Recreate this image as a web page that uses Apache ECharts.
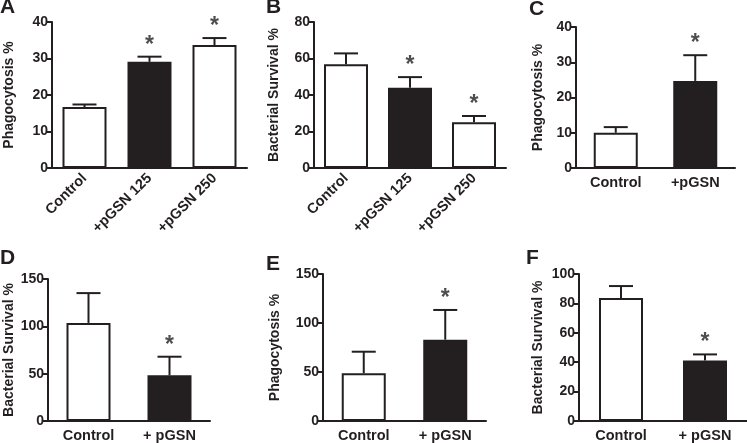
<!DOCTYPE html>
<html>
<head>
<meta charset="utf-8">
<script src="https://cdn.jsdelivr.net/npm/echarts@6/dist/echarts.min.js"></script>
<style>
html,body{margin:0;padding:0;background:#fff;}
#c{width:747px;height:443px;}
</style>
</head>
<body>
<div id="c"></div>
<script>
// ---- data ----
const catsAB = ['Control', '+pGSN 125', '+pGSN 250'];
const catsC = ['Control', '+pGSN'];
const catsDEF = ['Control', '+ pGSN'];

const meanA = [16.7, 29.1, 33.7];
const semA = [0.7, 1.4, 1.9];
const meanB = [56.9, 44.0, 25.1];
const semB = [5.9, 5.8, 3.4];
const meanC = [10.0, 24.7];
const semC = [1.6, 7.3];
const meanD = [103.6, 48.2];
const semD = [31.5, 19.7];
const meanE = [48.7, 83.0];
const semE = [22.0, 30.3];
const meanF = [83.6, 41.2];
const semF = [8.2, 4.1];

const fill3 = ['white', 'black', 'white'];
const fill2 = ['white', 'black'];
const sig3 = [false, true, true];
const sig2 = [false, true];

const yTicksA = [0, 10, 20, 30, 40];
const yTicksB = [0, 20, 40, 60, 80];
const yTicksC = [0, 10, 20, 30, 40];
const yTicksD = [0, 50, 100, 150];
const yTicksE = [0, 50, 100, 150];
const yTicksF = [0, 20, 40, 60, 80, 100];

const nameA = 'Phagocytosis %';
const nameB = 'Bacterial Survival %';

// ---- layout / style ----
const INK = '#231f20';
const FONT = '"Liberation Sans", Arial, sans-serif';
const panels = [
  {letter:'A', lx:0, ly:0, grid:{left:52, top:22, width:195, height:146}, cats:catsAB, mean:meanA, sem:semA, fill:fill3, sig:sig3, ticks:yTicksA, name:nameA, nameGap:36, rotate:45},
  {letter:'B', lx:266, ly:0, grid:{left:314, top:22, width:192, height:146}, cats:catsAB, mean:meanB, sem:semB, fill:fill3, sig:sig3, ticks:yTicksB, name:nameB, nameGap:33, rotate:45},
  {letter:'C', lx:529, ly:2, grid:{left:576, top:27, width:159, height:141}, cats:catsC, mean:meanC, sem:semC, fill:fill2, sig:sig2, ticks:yTicksC, name:nameA, nameGap:31, rotate:0},
  {letter:'D', lx:0, ly:251, grid:{left:48, top:279, width:162, height:142}, cats:catsDEF, mean:meanD, sem:semD, fill:fill2, sig:sig2, ticks:yTicksD, name:nameB, nameGap:32, rotate:0},
  {letter:'E', lx:266, ly:257, grid:{left:323, top:274, width:163, height:147}, cats:catsDEF, mean:meanE, sem:semE, fill:fill2, sig:sig2, ticks:yTicksE, name:nameA, nameGap:41, rotate:0},
  {letter:'F', lx:526, ly:251, grid:{left:579, top:274, width:168, height:147}, cats:catsDEF, mean:meanF, sem:semF, fill:fill2, sig:sig2, ticks:yTicksF, name:nameB, nameGap:34, rotate:0}
];

const option = {
  animation:false,
  backgroundColor:'#fff',
  title:[], grid:[], xAxis:[], yAxis:[], series:[]
};

panels.forEach((p, i) => {
  option.title.push({text:p.letter, left:p.lx, top:p.ly - 3, padding:0,
    textStyle:{fontFamily:FONT, fontWeight:'bold', fontSize:21, color:INK}});
  option.grid.push(p.grid);
  option.xAxis.push({
    type:'category', gridIndex:i, data:p.cats,
    axisLine:{lineStyle:{color:INK, width:2}},
    axisTick:{alignWithLabel:true, length:5, lineStyle:{color:INK, width:2}},
    axisLabel:{rotate:p.rotate, margin:p.rotate ? 8 : 7, interval:0, color:INK,
      fontFamily:FONT, fontWeight:'bold', fontSize:14.5}
  });
  const ymax = p.ticks[p.ticks.length - 1];
  option.yAxis.push({
    type:'value', gridIndex:i, min:p.ticks[0], max:ymax, interval:p.ticks[1] - p.ticks[0],
    name:p.name, nameLocation:'middle', nameGap:p.nameGap, nameRotate:90,
    nameTextStyle:{fontFamily:FONT, fontWeight:'bold', fontSize:14, color:INK},
    splitLine:{show:false},
    axisLine:{show:true, lineStyle:{color:INK, width:2}},
    axisTick:{show:true, length:5, lineStyle:{color:INK, width:2}},
    axisLabel:{margin:4, color:INK, fontFamily:FONT, fontWeight:'bold', fontSize:14}
  });
  // bars
  option.series.push({
    type:'bar', xAxisIndex:i, yAxisIndex:i, barWidth:44,
    data:p.mean.map((v, k) => ({value:v, itemStyle:{color:p.fill[k] === 'black' ? INK : '#fff'}})),
    itemStyle:{borderColor:INK, borderWidth:2}
  });
  // error bars (upper only)
  option.series.push({
    type:'custom', xAxisIndex:i, yAxisIndex:i, z:3,
    data:p.mean.map((v, k) => [k, v, v + p.sem[k]]),
    renderItem:(params, api) => {
      const base = api.coord([api.value(0), api.value(1)]);
      const top = api.coord([api.value(0), api.value(2)]);
      const hw = 12;
      return {type:'group', children:[
        {type:'line', shape:{x1:base[0], y1:base[1], x2:top[0], y2:top[1]}, style:{stroke:INK, lineWidth:2}},
        {type:'line', shape:{x1:top[0] - hw, y1:top[1], x2:top[0] + hw, y2:top[1]}, style:{stroke:INK, lineWidth:2}}
      ]};
    }
  });
  // significance asterisks
  option.series.push({
    type:'scatter', xAxisIndex:i, yAxisIndex:i, symbolSize:0, silent:true,
    data:p.mean.map((v, k) => p.sig[k] ? [k, v + p.sem[k]] : null).filter(d => d),
    label:{show:true, position:'top', distance:0, formatter:'*', color:INK,
      fontFamily:FONT, fontWeight:'bold', fontSize:23}
  });
});

const chart = echarts.init(document.getElementById('c'), null, {renderer:'canvas'});
chart.setOption(option);
</script>
</body>
</html>
